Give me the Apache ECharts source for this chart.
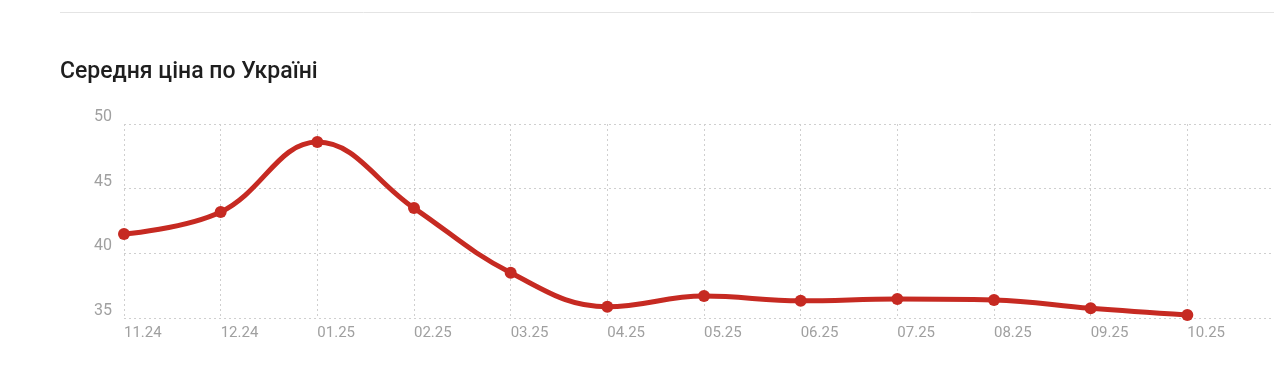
<!DOCTYPE html>
<html><head><meta charset="utf-8">
<script src="https://cdn.jsdelivr.net/npm/echarts@6/dist/echarts.min.js"></script>
<style>html,body{margin:0;padding:0;background:#fff;}#c{width:1274px;height:382px;}</style>
</head><body><div id="c"></div>
<script>
const categories = ['11.24','12.24','01.25','02.25','03.25','04.25','05.25','06.25','07.25','08.25','09.25','10.25'];
const prices = [41.5, 43.2, 48.6, 43.5, 38.5, 35.87, 36.7, 36.33, 36.47, 36.4, 35.75, 35.23];
const yTicks = { min: 35, max: 50, interval: 5 };
const titleText = 'Середня ціна по Україні';

const chart = echarts.init(document.getElementById('c'));
chart.setOption({
  animation: false,
  title: { text: titleText, left: 55, top: 56, textStyle: { fontFamily: 'Roboto', fontSize: 23, fontWeight: 500, color: '#1e1e1e' } },
  graphic: [{ type: 'line', shape: { x1: 60, y1: 12.5, x2: 1274, y2: 12.5 }, style: { stroke: '#e4e4e4', lineWidth: 1 } }],
  grid: { left: 124, top: 124, width: 1160, height: 194, outerBoundsMode: 'none', containLabel: false },
  xAxis: {
    type: 'category', data: categories, boundaryGap: false, max: 12,
    axisLine: { show: false }, axisTick: { show: false },
    axisLabel: { align: 'left', color: '#a0a0a0', fontFamily: 'Roboto', fontSize: 15, margin: 8 },
    splitLine: { show: true, lineStyle: { type: [2, 3], color: '#cfcfcf' } }
  },
  yAxis: {
    type: 'value', min: yTicks.min, max: yTicks.max, interval: yTicks.interval,
    axisLine: { show: false }, axisTick: { show: false },
    axisLabel: { color: '#a0a0a0', fontFamily: 'Roboto', fontSize: 16, margin: 12, verticalAlign: 'bottom', lineHeight: 14 },
    splitLine: { show: true, lineStyle: { type: [2, 3], color: '#cfcfcf' } }
  },
  series: [{
    type: 'line', data: prices, smooth: 0.4,
    symbol: 'circle', symbolSize: 12,
    lineStyle: { color: '#c62a22', width: 5 },
    itemStyle: { color: '#c62a22' }
  }]
});
</script></body></html>
